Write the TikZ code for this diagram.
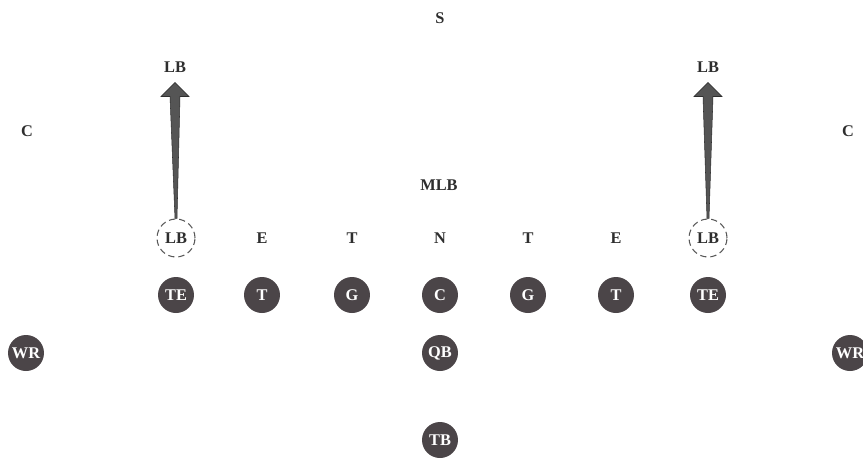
\documentclass[tikz,border=0pt]{standalone}
\usepackage{fontspec}
\setmainfont{Liberation Serif}
\usetikzlibrary{calc}
\definecolor{playergray}{HTML}{4B4548}
\definecolor{inkgray}{HTML}{2E2E2E}
\definecolor{arrowgray}{HTML}{555555}
\tikzset{
  defense/.style={font=\fontsize{9.3}{11}\selectfont\bfseries,text=inkgray,inner sep=1pt},
  offense/.style={circle,fill=playergray,minimum size=0.72cm,inner sep=0pt,
    font=\fontsize{9.3}{11}\selectfont\bfseries,text=white},
  reader/.style={circle,draw=inkgray!80,line width=0.6pt,dash pattern=on 3.6pt off 2.2pt,
    minimum size=0.76cm,inner sep=0pt,font=\fontsize{9.3}{11}\selectfont\bfseries,text=inkgray}
}
% tapered drop arrow from a reader circle to its landing label
\newcommand{\droparrow}[2]{%
  \fill[arrowgray,draw=inkgray,line width=0.3pt]
    ($(#1.north)+(-1,0)$) -- ($(#2.south)+(-5,22)$) -- ($(#2.south)+(-14,22)$)
    -- ($(#2.south)+(0,8)$) -- ($(#2.south)+(14,22)$) -- ($(#2.south)+(5,22)$)
    -- ($(#1.north)+(1,0)$) -- cycle;}

\begin{document}
\begin{tikzpicture}[x=0.02cm,y=-0.02cm]
\useasboundingbox[fill=white] (0,0) rectangle (863,468);
% ---------- deep defenders ----------
\node[defense] (safety) at (440,18) {S};
\node[defense] (lbdropL) at (175,67) {LB};
\node[defense] (lbdropR) at (708,67) {LB};
\node[defense] (cornerL) at (27,131) {C};
\node[defense] (cornerR) at (848,131) {C};
\node[defense] (mlb) at (439,185) {MLB};
% ---------- defensive front ----------
\node[reader] (lbL) at (176,238) {LB};
\node[defense] (endL) at (262,238) {E};
\node[defense] (tackleL) at (352,238) {T};
\node[defense] (nose) at (440,238) {N};
\node[defense] (tackleR) at (528,238) {T};
\node[defense] (endR) at (616,238) {E};
\node[reader] (lbR) at (708,238) {LB};
% ---------- offensive line ----------
\node[offense] (teL) at (176,295) {TE};
\node[offense] (otL) at (262,295) {T};
\node[offense] (ogL) at (352,295) {G};
\node[offense] (center) at (440,295) {C};
\node[offense] (ogR) at (528,295) {G};
\node[offense] (otR) at (616,295) {T};
\node[offense] (teR) at (708,295) {TE};
% ---------- backs and receivers ----------
\node[offense] (wrL) at (26,353) {WR};
\node[offense] (qb) at (440,353) {QB};
\node[offense] (wrR) at (850,353) {WR};
\node[offense] (tb) at (440,440) {TB};
% ---------- linebacker drops ----------
\droparrow{lbL}{lbdropL}
\droparrow{lbR}{lbdropR}
\end{tikzpicture}
\end{document}
